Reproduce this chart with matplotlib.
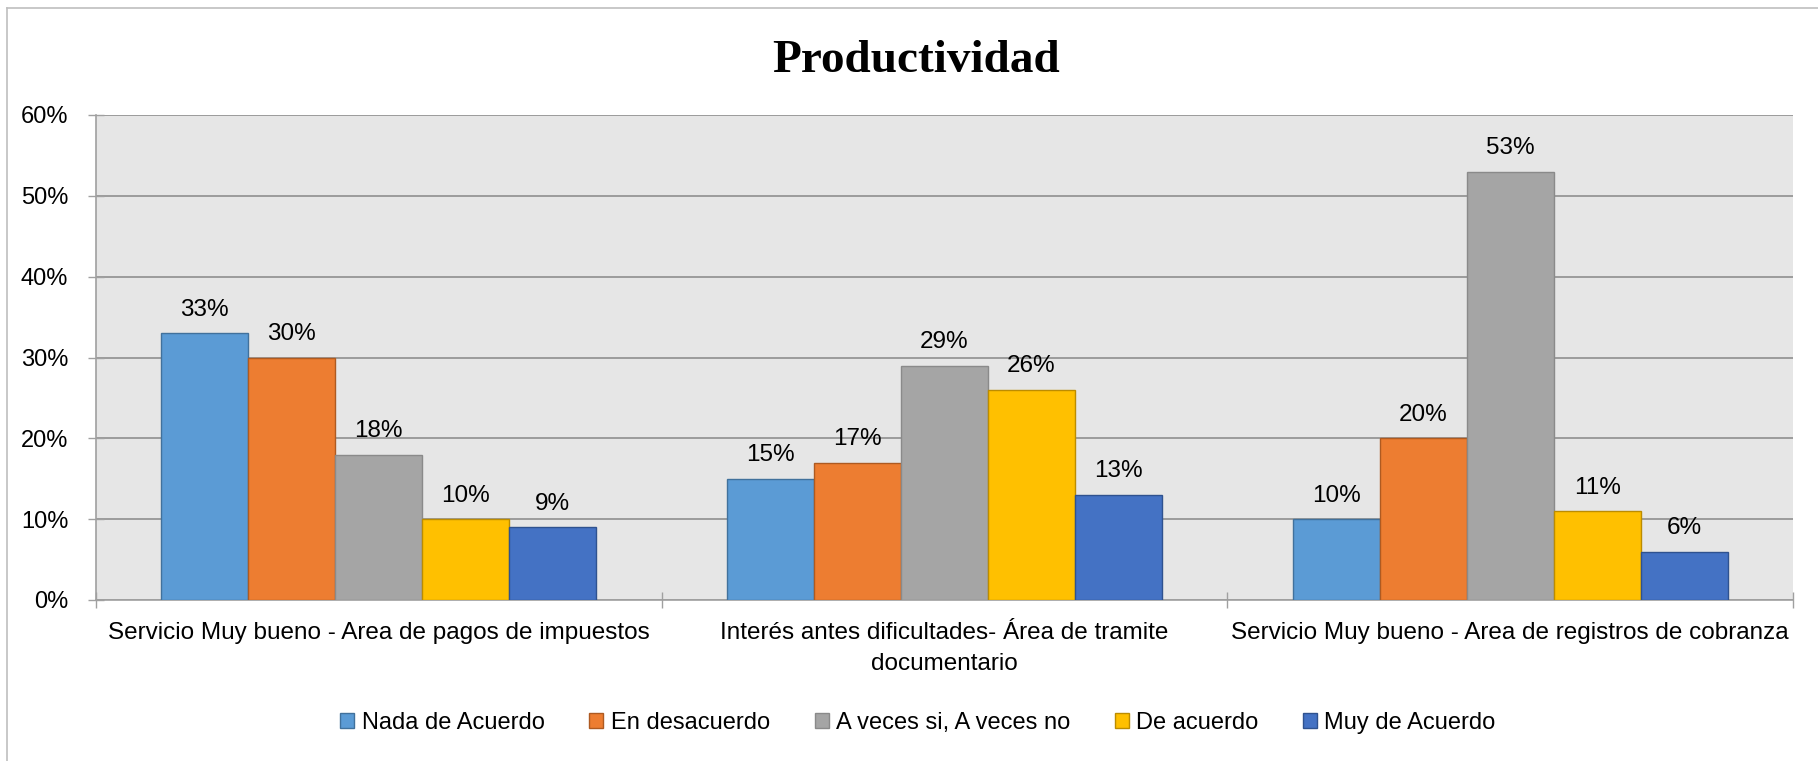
import matplotlib
matplotlib.use("Agg")
import matplotlib.pyplot as plt
import numpy as np
from matplotlib.lines import Line2D

categories = [
    "Servicio Muy bueno - Area de pagos de impuestos",
    "Interés antes dificultades- Área de tramite\ndocumentario",
    "Servicio Muy bueno - Area de registros de cobranza",
]
series_names = ["Nada de Acuerdo", "En desacuerdo", "A veces si, A veces no",
                "De acuerdo", "Muy de Acuerdo"]
nada_de_acuerdo = [33, 15, 10]
en_desacuerdo = [30, 17, 20]
a_veces = [18, 29, 53]
de_acuerdo = [10, 26, 11]
muy_de_acuerdo = [9, 13, 6]
series_values = [nada_de_acuerdo, en_desacuerdo, a_veces, de_acuerdo, muy_de_acuerdo]
yticks = [0, 10, 20, 30, 40, 50, 60]

colors = ["#5B9BD5", "#ED7D31", "#A5A5A5", "#FFC000", "#4472C4"]
edges = ["#41719C", "#AE5A21", "#8A8A8A", "#BC8C00", "#2F528F"]

plt.rcParams['font.family'] = ['Liberation Sans', 'DejaVu Sans']

W, H = 1818, 761
fig = plt.figure(figsize=(W / 100, H / 100), dpi=100)
ax = fig.add_axes([96 / W, 1 - 600 / H, (1793 - 96) / W, (600 - 115) / H])
ax.set_facecolor("#E6E6E6")

x = np.arange(len(categories))
n = len(series_names)
bw = 1 / (n + 1.5)
for i, (name, vals) in enumerate(zip(series_names, series_values)):
    pos = x + (i - (n - 1) / 2) * bw
    bars = ax.bar(pos, vals, width=bw, color=colors[i], edgecolor=edges[i],
                  linewidth=1, label=name, zorder=3)
    ax.bar_label(bars, labels=[f"{v}%" for v in vals], padding=9,
                 fontsize=17.5, color="#000000")

ax.set_xlim(-0.5, len(categories) - 0.5)
ax.set_ylim(0, 60)
ax.set_yticks(yticks)
ax.set_yticklabels([f"{v}%" for v in yticks], fontsize=17)
ax.yaxis.grid(True, color="#8F8F8F", linewidth=1.2, zorder=0)
ax.set_axisbelow(True)
ax.tick_params(axis='y', direction='inout', length=12, width=1, color="#A0A0A0", pad=14)

ax.set_xticks(x)
ax.set_xticklabels(categories, fontsize=17.5, linespacing=1.5)
ax.tick_params(axis='x', which='major', length=0, pad=16)
ax.set_xticks(np.arange(-0.5, len(categories)), minor=True)
ax.tick_params(axis='x', which='minor', direction='inout', length=12, width=1, color="#A0A0A0")

for s in ["top", "right"]:
    ax.spines[s].set_visible(False)
for s in ["left", "bottom"]:
    ax.spines[s].set_color("#A0A0A0")
    ax.spines[s].set_linewidth(1.2)

fig.text(916 / W, 1 - 61 / H, "Productividad", ha="center", va="center",
         fontsize=34, fontweight="bold", family=["Liberation Serif", "DejaVu Serif"])

leg = fig.legend(loc="center", bbox_to_anchor=(918 / W, 1 - 723 / H), ncol=5,
                 frameon=False, fontsize=17, handlelength=0.6, handleheight=0.6,
                 handletextpad=0.3, columnspacing=1.9)

# outer chart frame
fig.add_artist(Line2D([7 / W, 7 / W], [0, 1 - 8 / H], transform=fig.transFigure,
                      color="#BFBFBF", linewidth=1.2))
fig.add_artist(Line2D([7 / W, 1], [1 - 8 / H, 1 - 8 / H], transform=fig.transFigure,
                      color="#BFBFBF", linewidth=1.2))

fig.savefig("out.png", dpi=100)
